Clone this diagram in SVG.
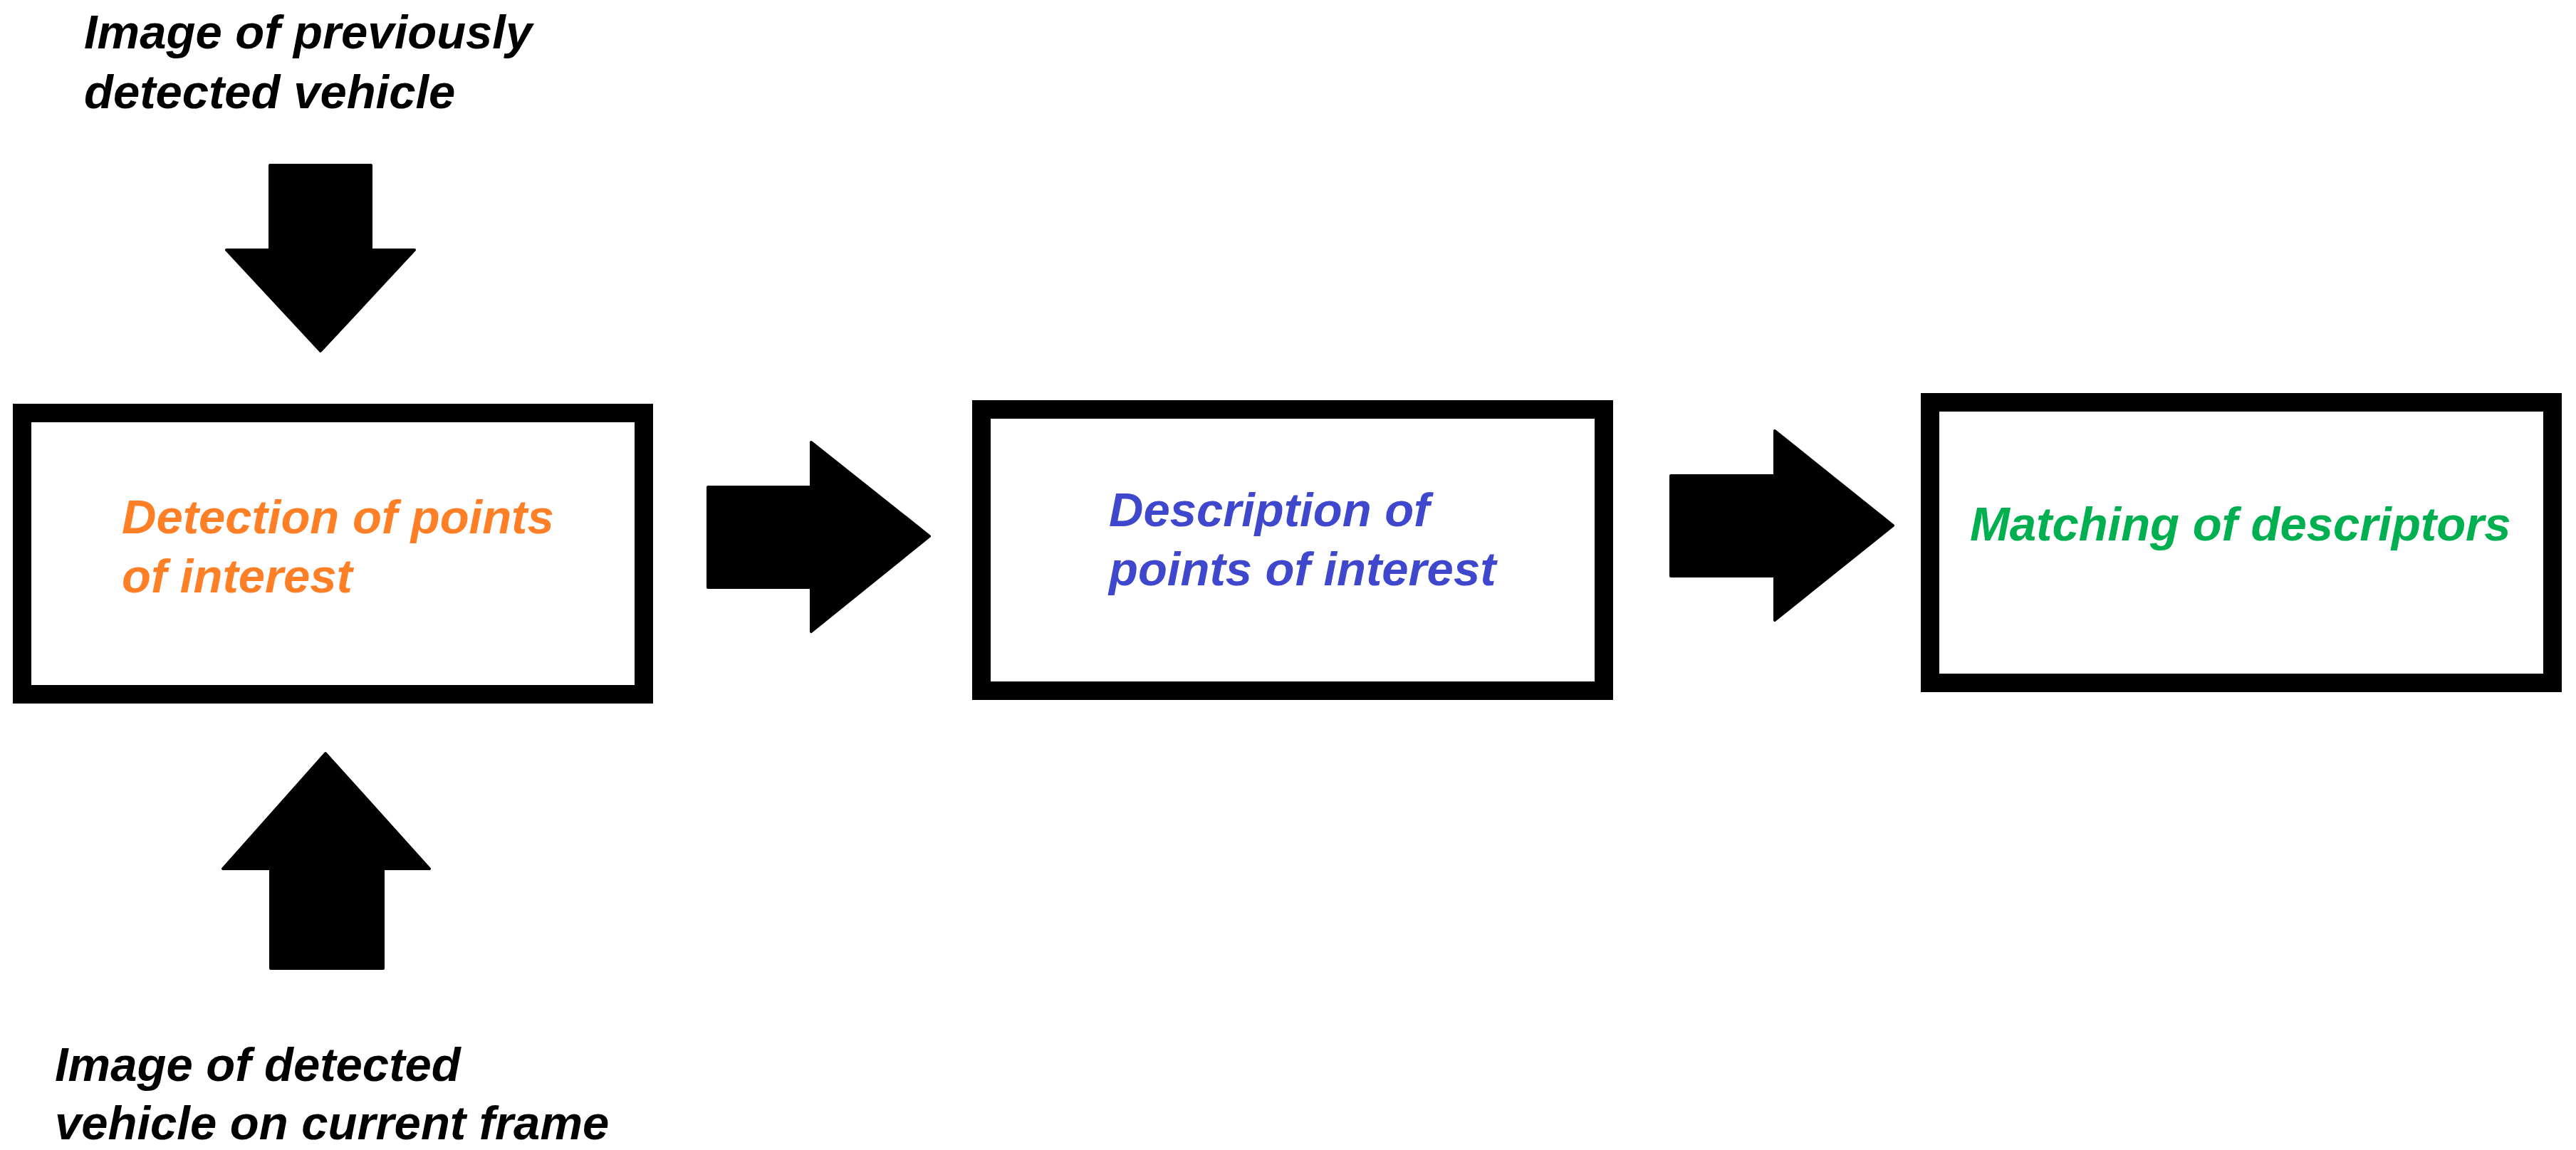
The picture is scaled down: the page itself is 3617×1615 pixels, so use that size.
<svg xmlns="http://www.w3.org/2000/svg" width="3617" height="1615" viewBox="0 0 3617 1615">
<style>
text{font-family:"Liberation Sans",Arial,sans-serif;font-weight:bold;font-style:italic;font-size:67px}
.lbl{fill:#000}
.box{fill:#fff;stroke:#000;stroke-width:26}
.arr{fill:#000;stroke:#000;stroke-width:4;stroke-linejoin:round}
</style>
<rect width="3617" height="1615" fill="#fff"/>
<g id="label-previous">
<text class="lbl" x="118" y="68">Image of previously</text>
<text class="lbl" x="118" y="152">detected vehicle</text>
</g>
<g id="label-current">
<text class="lbl" x="77" y="1518">Image of detected</text>
<text class="lbl" x="77" y="1600">vehicle on current frame</text>
</g>
<g id="detection">
<rect class="box" x="31" y="580" width="873" height="395"/>
<text x="171" y="749" fill="#FF7F27">Detection of points</text>
<text x="171" y="832" fill="#FF7F27">of interest</text>
</g>
<g id="description">
<rect class="box" x="1378" y="575" width="874" height="395"/>
<text x="1557" y="739" fill="#3F48CC">Description of</text>
<text x="1557" y="822" fill="#3F48CC">points of interest</text>
</g>
<g id="matching">
<rect class="box" x="2710" y="565" width="874" height="394"/>
<text x="2766" y="759" fill="#00B050">Matching of descriptors</text>
</g>
<g id="connectors">
<polygon class="arr" points="379,232 521,232 521,351 582,351 450,493 318,351 379,351"/>
<polygon class="arr" points="457,1058 603,1220 538,1220 538,1360 380,1360 380,1220 313,1220"/>
<polygon class="arr" points="994,684 1139,684 1139,621 1305,753 1139,887 1139,825 994,825"/>
<polygon class="arr" points="2346,668 2492,668 2492,605 2658,738 2492,871 2492,809 2346,809"/>
</g>
</svg>
